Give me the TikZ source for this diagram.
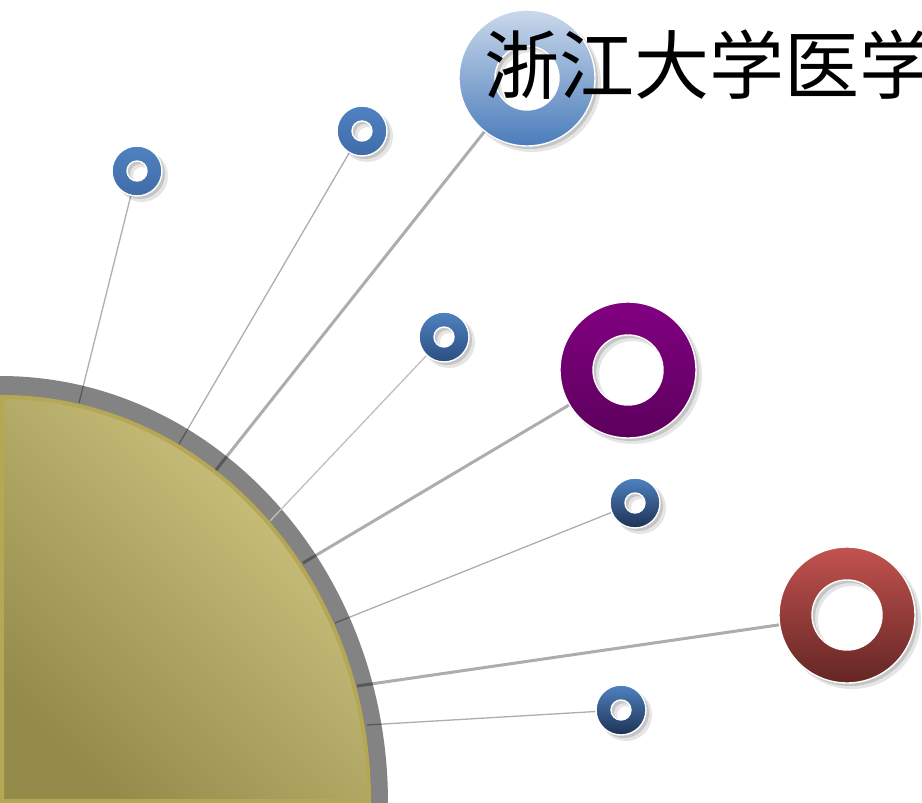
\documentclass[tikz,border=0pt]{standalone}
\usepackage{fontspec}
\newfontfamily\cjk{Noto Sans CJK SC}
\definecolor{ringgray}{HTML}{838383}
\definecolor{goldedge}{HTML}{B5A753}
\definecolor{goldlight}{HTML}{D2C883}
\definecolor{goldmid}{HTML}{BCAA65}
\definecolor{golddark}{HTML}{948A4A}
\definecolor{bigbluetop}{HTML}{CAD8EB}
\definecolor{bigbluebot}{HTML}{4A7DBB}
\definecolor{purtop}{HTML}{820082}
\definecolor{purbot}{HTML}{5C005C}
\definecolor{redtop}{HTML}{C2524F}
\definecolor{redbot}{HTML}{642624}
\definecolor{sbluetop}{HTML}{4F82C0}
\definecolor{sblueA}{HTML}{3F6CA8}
\definecolor{sblueC}{HTML}{2C4E80}
\definecolor{sblueD}{HTML}{1D3254}
\newcommand\donut[5]{%
  \fill[black, opacity=0.10, even odd rule] ([shift={(5,5)}]#1.center) circle[radius=#2pt+1pt] ([shift={(5,5)}]#1.center) circle[radius=#3pt-1pt];
  \fill[black, opacity=0.14, even odd rule] ([shift={(3,3)}]#1.center) circle[radius=#2pt] ([shift={(3,3)}]#1.center) circle[radius=#3pt];
  \shade[even odd rule, top color=#4, bottom color=#5] (#1.center) circle[radius=#2pt] (#1.center) circle[radius=#3pt];
  \draw[white, line width=1.4pt] (#1.center) circle[radius=#2pt] (#1.center) circle[radius=#3pt];
}
\begin{document}
\begin{tikzpicture}[x=1pt,y=-1pt,
  ray/.style={line width=1.3pt, draw=black, draw opacity=0.32},
  thickray/.style={ray, line width=3pt},
  hub/.style={circle, inner sep=0pt, minimum size=#1, draw=none},
  titlefont/.style={font=\cjk\fontsize{75}{80}\selectfont}]
\useasboundingbox (0,0) rectangle (922,803);
\clip (0,0) rectangle (922,803);
% gray ring of the quarter disc
\fill[ringgray] (0,803) ellipse [x radius=388, y radius=427];
% gold quarter disc
\shade[top color=goldlight, middle color=goldmid, bottom color=golddark, shading angle=-45]
  (2,801) -- (2,397) arc[start angle=-90, end angle=0, x radius=367, y radius=404] -- cycle;
\draw[goldedge, line width=4pt]
  (2,801) -- (2,397) arc[start angle=-90, end angle=0, x radius=367, y radius=404] -- cycle;
% ring positions
\node[hub=136pt] (big) at (527,78) {};
\node[hub=136pt] (pur) at (628,370) {};
\node[hub=136pt] (red) at (847,615) {};
\node[hub=50pt] (sa) at (137,171) {};
\node[hub=50pt] (sb) at (362,131) {};
\node[hub=50pt] (sc) at (444,337) {};
\node[hub=50pt] (sd) at (635,503) {};
\node[hub=50pt] (se) at (621,710) {};
% ray feet on the disc
\coordinate (p1) at (79,403);
\coordinate (p2) at (179,444);
\coordinate (p3) at (216,470);
\coordinate (p4) at (270,521);
\coordinate (p5) at (303,563);
\coordinate (p6) at (335,623);
\coordinate (p7) at (357,686);
\coordinate (p8) at (367,725);
% rays
\draw[ray] (p1) -- (sa);
\draw[ray] (p2) -- (sb);
\draw[thickray] (p3) -- (big);
\draw[line width=1.3pt, draw=black!25] (p4) -- (sc);
\draw[thickray] (p5) -- (pur);
\draw[ray] (p6) -- (sd);
\draw[thickray] (p7) -- (red);
\draw[ray] (p8) -- (se);
% rings
\donut{big}{68}{32}{bigbluetop}{bigbluebot}
\donut{pur}{68}{35}{purtop}{purbot}
\donut{red}{68}{35}{redtop}{redbot}
\donut{sa}{25}{10}{sbluetop}{sblueA}
\donut{sb}{25}{10}{sbluetop}{sblueA}
\donut{sc}{25}{10}{sbluetop}{sblueC}
\donut{sd}{25}{10}{sbluetop}{sblueD}
\donut{se}{25}{10}{sbluetop}{sblueD}
% title
\node[titlefont, anchor=base west, inner sep=0pt] (title) at (484,93) {浙江大学医学};
\end{tikzpicture}
\end{document}
